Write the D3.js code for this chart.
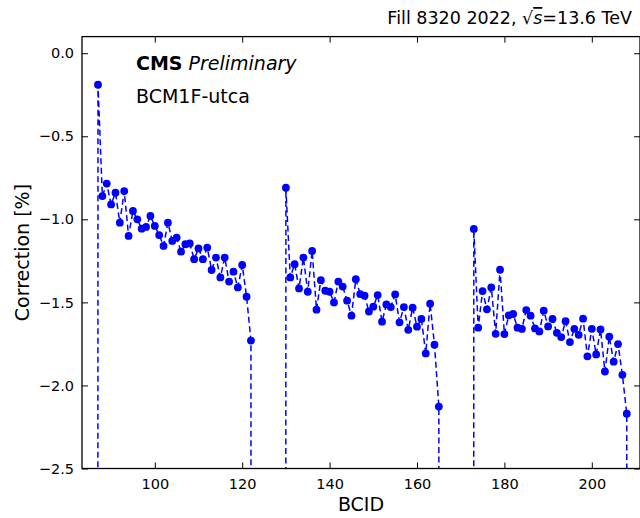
<!DOCTYPE html>
<html><head><meta charset="utf-8">
<script src="https://cdn.jsdelivr.net/npm/d3@7"></script>
<style>body{margin:0;background:#fff}svg{display:block;font-family:"DejaVu Sans",sans-serif}</style>
</head><body><svg id="c" width="640" height="518"></svg>
<script>
// BCIDs of the three trains
const train1Bcid = [87,88,89,90,91,92,93,94,95,96,97,98,99,100,101,102,103,104,105,106,107,108,109,110,111,112,113,114,115,116,117,118,119,120,121,122];
const train1Val = [-0.19,-0.86,-0.785,-0.91,-0.84,-1.02,-0.83,-1.10,-0.95,-1.00,-1.056,-1.046,-0.98,-1.04,-1.095,-1.16,-1.02,-1.13,-1.11,-1.195,-1.15,-1.145,-1.24,-1.175,-1.24,-1.17,-1.305,-1.23,-1.35,-1.23,-1.375,-1.315,-1.41,-1.275,-1.466,-1.73];
const train2Bcid = [130,131,132,133,134,135,136,137,138,139,140,141,142,143,144,145,146,147,148,149,150,151,152,153,154,155,156,157,158,159,160,161,162,163,164,165];
const train2Val = [-0.81,-1.35,-1.27,-1.416,-1.23,-1.436,-1.19,-1.544,-1.366,-1.43,-1.436,-1.50,-1.375,-1.405,-1.49,-1.58,-1.36,-1.45,-1.46,-1.555,-1.526,-1.456,-1.616,-1.512,-1.528,-1.452,-1.62,-1.528,-1.665,-1.532,-1.646,-1.60,-1.807,-1.508,-1.755,-2.127];
const train3Bcid = [173,174,175,176,177,178,179,180,181,182,183,184,185,186,187,188,189,190,191,192,193,194,195,196,197,198,199,200,201,202,203,204,205,206,207,208];
const train3Val = [-1.058,-1.652,-1.432,-1.542,-1.41,-1.689,-1.303,-1.691,-1.578,-1.570,-1.652,-1.66,-1.546,-1.58,-1.657,-1.675,-1.55,-1.645,-1.60,-1.683,-1.709,-1.613,-1.739,-1.659,-1.695,-1.598,-1.825,-1.659,-1.813,-1.663,-1.916,-1.707,-1.857,-1.751,-1.936,-2.17];
// empty bunches next to the trains: value far below the plotted range
const emptyBcid = [86,123,129,166,172,209];
const emptyVal = -100;
const xTicks = [100,120,140,160,180,200];
const yTicks = [0.0,-0.5,-1.0,-1.5,-2.0,-2.5];

const svg = d3.select("#c");
const L=82, R=640, T=36.6, B=468.5;
const x = d3.scaleLinear().domain([83.34,211.03]).range([L,R]);
const y = d3.scaleLinear().domain([-2.5,0.1]).range([B,T]);
const blue = "#0000ff";

const filled = [];
[[train1Bcid,train1Val],[train2Bcid,train2Val],[train3Bcid,train3Val]].forEach(([b,v])=>b.forEach((d,i)=>filled.push({b:d,v:v[i]})));
const all = filled.concat(emptyBcid.map(b=>({b,v:emptyVal}))).sort((a,b)=>a.b-b.b);

svg.append("defs").append("clipPath").attr("id","clip").append("rect")
  .attr("x",L).attr("y",T).attr("width",R-L).attr("height",B-T);

const g = svg.append("g").attr("clip-path","url(#clip)");
g.append("path").datum(all)
  .attr("d", d3.line().x(d=>x(d.b)).y(d=>y(d.v)))
  .attr("fill","none").attr("stroke",blue).attr("stroke-width",1.5)
  .attr("stroke-dasharray","6,3.5");
g.selectAll("circle").data(filled).join("circle")
  .attr("cx",d=>x(d.b)).attr("cy",d=>y(d.v)).attr("r",3.9).attr("fill",blue);

// axes (inward ticks all sides)
const fs = 14.5;
const xb = svg.append("g").attr("transform",`translate(0,${B})`)
  .call(d3.axisBottom(x).tickValues(xTicks).tickSizeInner(-6).tickSizeOuter(0).tickPadding(10).tickFormat(d3.format("d")));
const xt = svg.append("g").attr("transform",`translate(0,${T})`)
  .call(d3.axisTop(x).tickValues(xTicks).tickSizeInner(-6).tickSizeOuter(0).tickFormat(""));
const yl = svg.append("g").attr("transform",`translate(${L},0)`)
  .call(d3.axisLeft(y).tickValues(yTicks).tickSizeInner(-6).tickSizeOuter(0).tickPadding(8).tickFormat(d=>d3.format(".1f")(d).replace("-","\u2212")));
const yr = svg.append("g").attr("transform",`translate(${R},0)`)
  .call(d3.axisRight(y).tickValues(yTicks).tickSizeInner(-6).tickSizeOuter(0).tickFormat(""));
[xb,xt,yl,yr].forEach(a=>{
  a.selectAll("path.domain").remove();
  a.selectAll(".tick line").attr("stroke","#000").attr("stroke-width",1);
  a.selectAll("text").attr("font-family","DejaVu Sans").attr("font-size",fs).attr("fill","#000");
});
svg.append("rect").attr("x",L).attr("y",T).attr("width",R-L).attr("height",B-T)
  .attr("fill","none").attr("stroke","#000").attr("stroke-width",1.3);

// labels
svg.append("text").attr("x",(L+R)/2).attr("y",511).attr("text-anchor","middle")
  .attr("font-size",19).text("BCID");
svg.append("text").attr("transform",`translate(29,${(T+B)/2}) rotate(-90)`).attr("text-anchor","middle")
  .attr("font-size",19).text("Correction [%]");

const t1 = svg.append("text").attr("x",136).attr("y",70).attr("font-size",19);
t1.append("tspan").attr("font-weight","bold").text("CMS");
t1.append("tspan").attr("font-style","italic").attr("dx",6).text("Preliminary");
svg.append("text").attr("x",136).attr("y",103).attr("font-size",19).text("BCM1F-utca");

const tt = svg.append("text").attr("x",632).attr("y",24).attr("text-anchor","end").attr("font-size",17.5);
tt.append("tspan").text("Fill 8320 2022, \u221A");
tt.append("tspan").attr("font-style","italic").attr("text-decoration","overline").text("s");
tt.append("tspan").text("=13.6 TeV");
</script></body></html>
